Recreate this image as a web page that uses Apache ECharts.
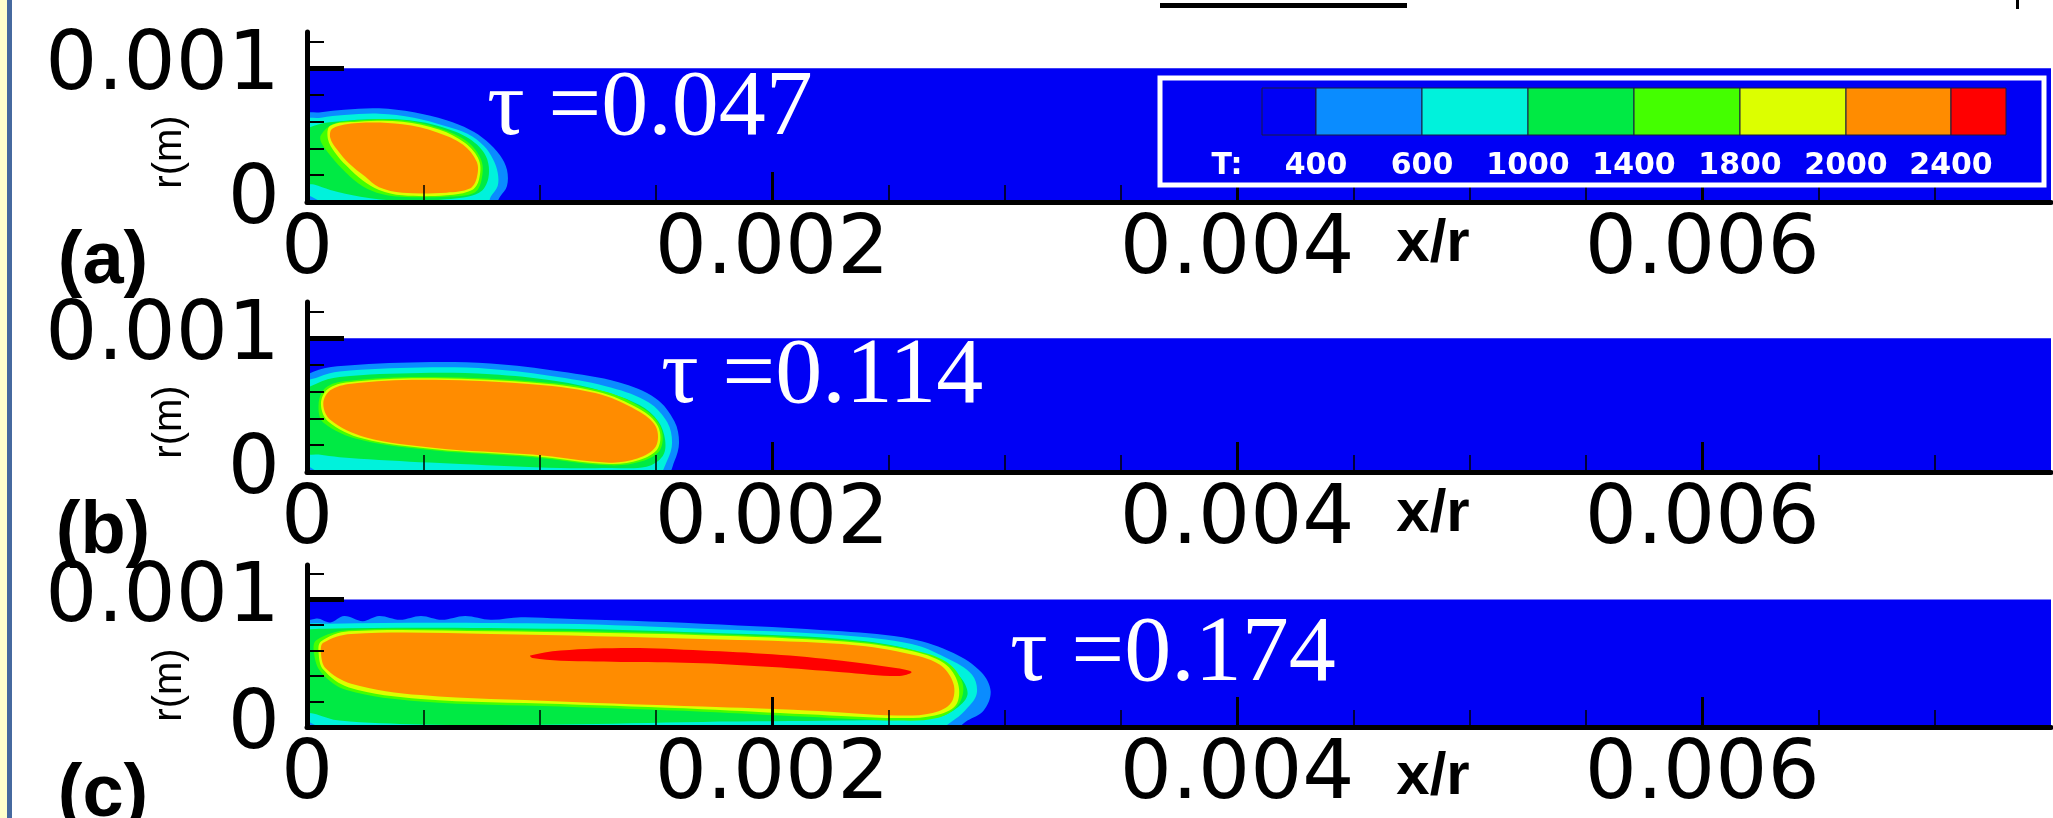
<!DOCTYPE html>
<html>
<head>
<meta charset="utf-8">
<title>Temperature contours</title>
<script src="https://cdn.jsdelivr.net/npm/echarts@6/dist/echarts.min.js"></script>
<style>
  html, body { margin: 0; padding: 0; background: #fff; }
  #chart { width: 2053px; height: 818px; }
</style>
</head>
<body>
<div id="chart"></div>
<script>
// axes
const xMax = 0.0075;
const yMax = 0.00127;
const xMajorTicks = [0, 0.002, 0.004, 0.006];
const xMinorTicks = [0.0005, 0.001, 0.0015, 0.0025, 0.003, 0.0035, 0.0045, 0.005, 0.0055, 0.0065, 0.007];
const yLabelTicks = [0, 0.001];
const yMajorTicks = [0.001];
const yMinorTicks = [0.0002, 0.0004, 0.0006, 0.0008, 0.0012];

// temperature levels (T) and flood colours
const levels = [400, 600, 1000, 1400, 1800, 2000, 2400];
const levelColors = ['#0a8cff', '#00f2dc', '#00ea44', '#44ff00', '#dcff00', '#ff8c00', '#ff0000'];
const coldColor = '#0000f5';
const legendLabels = ['400', '600', '1000', '1400', '1800', '2000', '2400'];

const taus = ['0.047', '0.114', '0.174'];
const panelTags = ['(a)', '(b)', '(c)'];

// domain r <= 0.001
const domain = [[0, 0], [xMax, 0], [xMax, 0.001], [0, 0.001]];

// contour outlines [x, r] (points just past the wall / axis get clipped)
const a400 = [[-0.00003, -0.00003], [-0.00003, 0.00064], [0.00006, 0.00067], [0.00016, 0.00069], [0.00031, 0.0007], [0.00046, 0.00067], [0.0006, 0.00061], [0.0007, 0.00054], [0.00077, 0.00046], [0.00083, 0.00035], [0.00086, 0.00024], [0.00086, 0.00012], [0.00083, 0.00004], [0.0008, -0.00003]];
const a600 = [[0.00012, -0.00003], [0.00002, 0.00004], [-0.00003, 0.0001], [-0.00003, 0.0006], [0.00006, 0.00063], [0.00016, 0.00065], [0.00031, 0.00066], [0.00046, 0.00063], [0.00059, 0.00057], [0.00069, 0.00051], [0.00076, 0.00042], [0.0008, 0.00032], [0.00082, 0.00022], [0.00082, 0.00012], [0.00079, 0.00004], [0.00077, -0.00003]];
const a1000 = [[-0.00003, 0.00015], [-0.00003, 0.0005], [0.00003, 0.00057], [0.00012, 0.0006], [0.00031, 0.00062], [0.00044, 0.00061], [0.00058, 0.00056], [0.0007, 0.00047], [0.00077, 0.00034], [0.00078, 0.00018], [0.00074, 0.00007], [0.0006, 0.00002], [0.0004, 0.00001], [0.00023, 0.00004], [0.0001, 0.00009], [0.00003, 0.00013]];
const a1400 = [[0.00006, 0.0005], [0.00011, 0.00058], [0.00022, 0.00061], [0.00041, 0.00061], [0.00057, 0.00055], [0.00069, 0.00045], [0.00075, 0.00031], [0.00075, 0.00016], [0.00072, 0.00007], [0.0006, 0.00004], [0.0004, 0.00004], [0.0003, 0.00007], [0.00022, 0.00014], [0.00015, 0.00025], [0.00009, 0.00037], [0.00006, 0.00045]];
const a1800 = [[0.0001, 0.00057], [0.00022, 0.0006], [0.00041, 0.0006], [0.00057, 0.00054], [0.00068, 0.00044], [0.00074, 0.00031], [0.00074, 0.00017], [0.00071, 0.00009], [0.0006, 0.00005], [0.00041, 0.00005], [0.00031, 0.00009], [0.00024, 0.00016], [0.00017, 0.00027], [0.00012, 0.00037], [0.00009, 0.00047]];
const a2000 = [[0.00011, 0.00055], [0.00022, 0.00059], [0.00041, 0.00058], [0.00056, 0.00052], [0.00067, 0.00043], [0.00073, 0.0003], [0.00073, 0.00018], [0.0007, 0.0001], [0.0006, 0.00007], [0.00041, 0.00007], [0.00031, 0.00011], [0.00025, 0.00019], [0.00018, 0.00029], [0.00013, 0.00039], [0.0001, 0.00048]];

const b400 = [[-0.00003, -0.00003], [-0.00003, 0.00067], [0.00003, 0.00075], [0.00013, 0.00079], [0.00049, 0.00082], [0.00079, 0.00081], [0.00109, 0.00075], [0.00134, 0.00067], [0.0015, 0.00055], [0.00158, 0.00038], [0.0016, 0.00022], [0.00158, 0.00008], [0.00154, -0.00003]];
const b600 = [[0.0001, -0.00003], [0.00001, 0.00004], [-0.00003, 0.0001], [-0.00003, 0.00064], [0.00005, 0.00071], [0.00014, 0.00075], [0.00049, 0.00078], [0.00079, 0.00077], [0.00108, 0.00071], [0.00131, 0.00063], [0.00147, 0.00052], [0.00155, 0.00037], [0.00157, 0.00022], [0.00155, 0.00009], [0.0015, -0.00003]];
const b1000 = [[-0.00003, 0.00015], [-0.00003, 0.00057], [0.00004, 0.00066], [0.00014, 0.00071], [0.00049, 0.00074], [0.00079, 0.00073], [0.00107, 0.00068], [0.00128, 0.0006], [0.00143, 0.0005], [0.00151, 0.00038], [0.00154, 0.00024], [0.00153, 0.00012], [0.00146, 0.00004], [0.0013, 0.00003], [0.00109, 0.00003], [0.00066, 0.00006], [0.00031, 0.00009], [0.00014, 0.00011], [0.00005, 0.00013]];
const b1400 = [[0.00008, 0.00063], [0.00017, 0.00068], [0.00049, 0.00071], [0.00095, 0.00068], [0.00126, 0.00061], [0.00144, 0.00048], [0.00152, 0.00034], [0.00152, 0.00017], [0.00144, 0.00008], [0.0013, 0.00005], [0.00097, 0.00011], [0.00055, 0.00016], [0.00023, 0.00024], [0.00007, 0.00037], [0.00005, 0.00051]];
const b1800 = [[0.00009, 0.00062], [0.00018, 0.00067], [0.00049, 0.0007], [0.00095, 0.00067], [0.00125, 0.0006], [0.00143, 0.00047], [0.00151, 0.00034], [0.00151, 0.00018], [0.00143, 0.00009], [0.0013, 0.00006], [0.00097, 0.00012], [0.00055, 0.00017], [0.00024, 0.00025], [0.00009, 0.00038], [0.00006, 0.00051]];
const b2000 = [[0.0001, 0.00061], [0.00019, 0.00066], [0.00049, 0.00069], [0.00094, 0.00066], [0.00124, 0.00059], [0.00142, 0.00046], [0.0015, 0.00034], [0.0015, 0.00019], [0.00142, 0.0001], [0.0013, 0.00007], [0.00097, 0.00013], [0.00055, 0.00018], [0.00025, 0.00026], [0.0001, 0.00039], [0.00007, 0.00051]];

const c400 = [[-0.00003, -0.00003], [-0.00003, 0.00078], [0.00004, 0.00085], [0.0001, 0.00082], [0.00016, 0.00087], [0.00024, 0.00083], [0.00031, 0.00087], [0.0004, 0.00084], [0.00049, 0.00087], [0.00058, 0.00084], [0.00068, 0.00087], [0.00079, 0.00084], [0.00092, 0.00086], [0.00109, 0.00085], [0.0017, 0.00081], [0.0023, 0.00075], [0.0026, 0.00069], [0.00278, 0.00058], [0.0029, 0.00043], [0.00294, 0.00028], [0.00291, 0.00013], [0.00284, 0.00005], [0.00277, -0.00003]];
const c600 = [[0.00012, -0.00003], [0.00001, 0.00004], [-0.00003, 0.00011], [-0.00003, 0.00077], [0.0001, 0.00081], [0.00109, 0.00081], [0.0017, 0.00077], [0.0023, 0.00072], [0.0026, 0.00065], [0.00275, 0.00054], [0.00286, 0.00041], [0.00288, 0.00026], [0.00283, 0.00013], [0.00277, 0.00004], [0.0027, -0.00003]];
const c1000 = [[-0.00003, 0.00015], [-0.00003, 0.00072], [0.00007, 0.00077], [0.00109, 0.00077], [0.0017, 0.00074], [0.0023, 0.00069], [0.00257, 0.00062], [0.00272, 0.00052], [0.00281, 0.00039], [0.00284, 0.00025], [0.00278, 0.00013], [0.00269, 0.00007], [0.0023, 0.00005], [0.0017, 0.00004], [0.00109, 0.00002], [0.00049, 0.00002], [0.00014, 0.00005], [0.00004, 0.0001]];
const c1400 = [[0.00004, 0.00068], [0.00018, 0.00076], [0.00079, 0.00076], [0.0017, 0.00073], [0.00231, 0.00068], [0.00259, 0.00061], [0.00275, 0.00051], [0.00282, 0.00034], [0.0028, 0.00017], [0.00271, 0.00007], [0.00254, 0.00005], [0.00215, 0.00008], [0.0017, 0.00012], [0.00109, 0.00016], [0.00049, 0.0002], [0.00017, 0.00029], [0.00006, 0.00043], [0.00003, 0.00058]];
const c1800 = [[0.00006, 0.00067], [0.00018, 0.00075], [0.00079, 0.00075], [0.0017, 0.00072], [0.00231, 0.00067], [0.00259, 0.0006], [0.00274, 0.0005], [0.0028, 0.00034], [0.00279, 0.00017], [0.0027, 0.00009], [0.00254, 0.00007], [0.00215, 0.0001], [0.0017, 0.00014], [0.00109, 0.00018], [0.00049, 0.00022], [0.00018, 0.00031], [0.00007, 0.00045], [0.00005, 0.00058]];
const c2000 = [[0.00007, 0.00066], [0.00019, 0.00073], [0.00079, 0.00073], [0.0017, 0.00069], [0.0023, 0.00065], [0.00257, 0.00058], [0.00272, 0.00049], [0.00278, 0.00034], [0.00277, 0.00019], [0.00269, 0.00011], [0.00254, 0.00009], [0.00215, 0.00013], [0.0017, 0.00016], [0.00109, 0.0002], [0.00049, 0.00025], [0.00019, 0.00034], [0.00008, 0.00046], [0.00006, 0.00058]];
const c2400 = [[0.00096, 0.00056], [0.00109, 0.0006], [0.00139, 0.00062], [0.0017, 0.0006], [0.002, 0.00057], [0.0023, 0.00052], [0.00254, 0.00046], [0.0026, 0.00043], [0.00254, 0.0004], [0.0023, 0.00043], [0.002, 0.00047], [0.0017, 0.0005], [0.00139, 0.00051], [0.00109, 0.00052], [0.00097, 0.00054]];

const panels = [
  { tau: taus[0], tag: panelTags[0], layers: [a400, a600, a1000, a1400, a1800, a2000] },
  { tau: taus[1], tag: panelTags[1], layers: [b400, b600, b1000, b1400, b1800, b2000] },
  { tau: taus[2], tag: panelTags[2], layers: [c400, c600, c1000, c1400, c1800, c2000, c2400] }
];

// page layout (pixels)
const panelBottom = [202, 472, 735];
const plotLeft = 307;
const plotWidth = 1744;
const plotHeight = 170;
const tauPos = [[487, -93], [661, -95], [1010, -80]];
const numFont = 'DejaVu Sans';

const chart = echarts.init(document.getElementById('chart'));

const grids = [];
const xAxes = [];
const yAxes = [];
const series = [];
const graphics = [
  { type: 'rect', z: 100, shape: { x: 0, y: 0, width: 7, height: 818 }, style: { fill: '#ffffcc' } },
  { type: 'rect', z: 100, shape: { x: 7, y: 0, width: 5, height: 818 }, style: { fill: '#46699f' } },
  { type: 'rect', z: 100, shape: { x: 1160, y: 3, width: 247, height: 5 }, style: { fill: '#000' } },
  { type: 'rect', z: 100, shape: { x: 2016, y: 0, width: 3, height: 9 }, style: { fill: '#000' } }
];

panels.forEach((p, i) => {
  const bottom = panelBottom[i];
  grids.push({ left: plotLeft, top: bottom - plotHeight, width: plotWidth, height: plotHeight });

  const baseX = {
    gridIndex: i, type: 'value', min: 0, max: xMax, position: 'bottom', z: 10,
    splitLine: { show: false }
  };
  xAxes.push(Object.assign({}, baseX, {
    axisLine: { show: true, onZero: false, lineStyle: { color: '#000', width: 5 } },
    axisTick: { show: true, inside: true, length: 30, customValues: xMajorTicks, lineStyle: { color: '#000', width: 3 } },
    axisLabel: { show: true, customValues: xMajorTicks, color: '#000', fontSize: 82, fontFamily: numFont, margin: 9 }
  }));
  xAxes.push(Object.assign({}, baseX, {
    axisLine: { show: false },
    axisTick: { show: true, inside: true, length: 17, customValues: xMinorTicks, lineStyle: { color: '#000', width: 1.5 } },
    axisLabel: { show: false }
  }));

  const baseY = {
    gridIndex: i, type: 'value', min: 0, max: yMax, position: 'left', z: 10,
    splitLine: { show: false }
  };
  yAxes.push(Object.assign({}, baseY, {
    axisLine: { show: true, onZero: false, lineStyle: { color: '#000', width: 5 } },
    axisTick: { show: true, inside: true, length: 37, customValues: yMajorTicks, lineStyle: { color: '#000', width: 5 } },
    axisLabel: { show: true, customValues: yLabelTicks, color: '#000', fontSize: 82, fontFamily: numFont, margin: 27 }
  }));
  yAxes.push(Object.assign({}, baseY, {
    axisLine: { show: false },
    axisTick: { show: true, inside: true, length: 17, customValues: yMinorTicks, lineStyle: { color: '#000', width: 2 } },
    axisLabel: { show: false }
  }));

  const shapes = [{ pts: domain, color: coldColor, smooth: 0 }].concat(
    p.layers.map((pts, k) => ({ pts: pts, color: levelColors[k], smooth: 0.35 }))
  );
  series.push({
    type: 'custom',
    xAxisIndex: 2 * i,
    yAxisIndex: 2 * i,
    clip: true,
    silent: true,
    data: shapes.map((s, k) => [s.pts[0][0], s.pts[0][1], k]),
    renderItem: (params, api) => {
      const s = shapes[params.dataIndex];
      return {
        type: 'polygon',
        shape: { points: s.pts.map(pt => api.coord(pt)), smooth: s.smooth },
        style: { fill: s.color }
      };
    }
  });

  graphics.push({
    type: 'text', z: 100, x: 170, y: bottom - 50, rotation: Math.PI / 2,
    style: { text: 'r(m)', fill: '#000', fontSize: 40, fontFamily: 'Liberation Sans', align: 'center', verticalAlign: 'middle' }
  });
  graphics.push({
    type: 'text', z: 100, x: 103, y: bottom + 61,
    style: { text: p.tag, fill: '#000', fontSize: 74, fontWeight: 'bold', fontFamily: 'Liberation Sans', align: 'center', verticalAlign: 'middle' }
  });
  graphics.push({
    type: 'text', z: 100, x: 1433, y: bottom + 42,
    style: { text: 'x/r', fill: '#000', fontSize: 60, fontWeight: 'bold', fontFamily: 'Liberation Sans', align: 'center', verticalAlign: 'middle' }
  });
  graphics.push({
    type: 'text', z: 100, x: tauPos[i][0], y: bottom + tauPos[i][1],
    style: { text: '\u03c4 =' + p.tau, fill: '#fff', fontSize: 94, fontFamily: 'Liberation Serif', align: 'left', verticalAlign: 'middle' }
  });
});

// colour legend
const legendBox = { x: 1160, y: 78, width: 884, height: 107 };
const swatchLeft = 1262;
const swatchTop = 88;
const swatchHeight = 47;
const swatchWidths = [54, 106, 106, 106, 106, 106, 105, 55];
const legendColors = [coldColor].concat(levelColors);

graphics.push({
  type: 'rect', z: 100, shape: legendBox,
  style: { fill: coldColor, stroke: '#fff', lineWidth: 5 }
});
let sx = swatchLeft;
const bounds = [];
legendColors.forEach((c, k) => {
  graphics.push({
    type: 'rect', z: 101,
    shape: { x: sx, y: swatchTop, width: swatchWidths[k], height: swatchHeight },
    style: { fill: c, stroke: '#1a1a40', lineWidth: 1 }
  });
  sx += swatchWidths[k];
  bounds.push(sx);
});
graphics.push({
  type: 'text', z: 101, x: 1227, y: 166,
  style: { text: 'T:', fill: '#fff', fontSize: 30, fontWeight: 'bold', fontFamily: numFont, align: 'center', verticalAlign: 'middle' }
});
legendLabels.forEach((t, k) => {
  graphics.push({
    type: 'text', z: 101, x: bounds[k], y: 166,
    style: { text: t, fill: '#fff', fontSize: 30, fontWeight: 'bold', fontFamily: numFont, align: 'center', verticalAlign: 'middle' }
  });
});

chart.setOption({
  animation: false,
  backgroundColor: '#fff',
  grid: grids,
  xAxis: xAxes,
  yAxis: yAxes,
  series: series,
  graphic: graphics
});

window.addEventListener('resize', () => chart.resize());
</script>
</body>
</html>
